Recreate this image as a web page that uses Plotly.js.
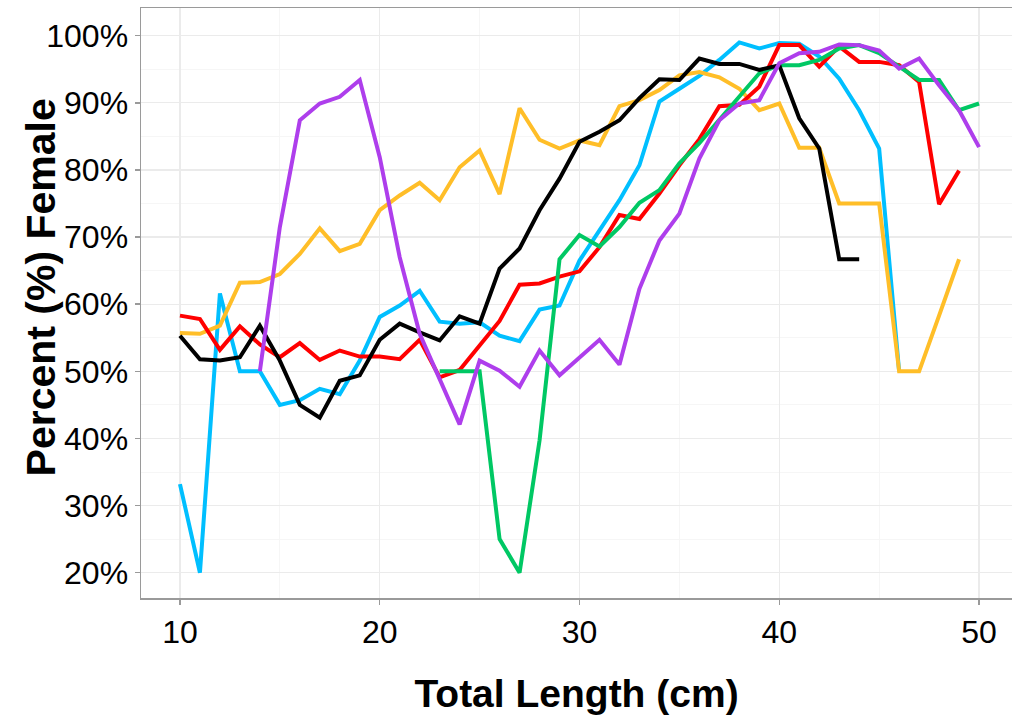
<!DOCTYPE html>
<html>
<head>
<meta charset="utf-8">
<script src="https://cdn.plot.ly/plotly-3.0.1.min.js"></script>
<style>
html,body{margin:0;padding:0;background:#fff;}
#chart{width:1012px;height:715px;}
</style>
</head>
<body>
<div id="chart"></div>
<script>
// Total length (cm) and percent female per group
var cyanX = [10,11,12,13,14,15,16,17,18,19,20,21,22,23,24,25,26,27,28,29,30,31,32,33,34,35,36,37,38,39,40,41,42,43,44,45,46];
var cyanY = [33.2,20,61.6,50,50,45,45.7,47.4,46.6,51.6,58.1,59.8,62,57.4,57.1,57.3,55.3,54.5,59.2,59.8,66.5,71,75.5,80.7,90.2,92.1,94,96.4,99,98.1,98.9,98.8,96.9,93.6,88.9,83.2,50];

var orangeX = [10,11,12,13,14,15,16,17,18,19,20,21,22,23,24,25,26,27,28,29,30,31,32,33,34,35,36,37,38,39,40,41,42,43,44,45,46,47,48,49];
var orangeY = [55.7,55.6,56.8,63.2,63.3,64.5,67.5,71.3,67.9,69,74,76.2,78.1,75.5,80.4,82.9,76.4,89.2,84.5,83.2,84.4,83.7,89.5,90.4,91.9,94.1,94.6,93.8,92.1,88.9,89.9,83.3,83.3,75,75,75,50,50,58.3,66.7];

var redX = [10,11,12,13,14,15,16,17,18,19,20,21,22,23,24,25,26,27,28,29,30,31,32,33,34,35,36,37,38,39,40,41,42,43,44,45,46,47,48,49];
var redY = [58.3,57.8,53.2,56.7,54,52.1,54.2,51.7,53.1,52.2,52.2,51.8,54.7,49.1,50.2,53.8,57.5,62.9,63.1,64.1,64.9,68.5,73.3,72.7,76.5,80.7,84.6,89.5,89.7,92.4,98.6,98.6,95.4,98.4,96.1,96.1,95.6,93.1,74.9,79.9];

var greenX = [23,24,25,26,27,28,29,30,31,32,33,34,35,36,37,38,39,40,41,42,43,44,45,46,47,48,49,50];
var greenY = [50,50,50,25,20,39.7,66.7,70.3,68.6,71.5,75.1,77,81,84,87.4,90.9,94.4,95.6,95.6,96.4,98.1,98.6,97.4,95.4,93.4,93.4,88.9,89.9];

var blackX = [10,11,12,13,14,15,16,17,18,19,20,21,22,23,24,25,26,27,28,29,30,31,32,33,34,35,36,37,38,39,40,41,42,43,44];
var blackY = [55.3,51.8,51.6,52.1,56.8,51.6,45,43.1,48.6,49.4,54.7,57.1,55.8,54.6,58.2,57.1,65.3,68.3,74,78.7,84.2,85.7,87.4,90.7,93.5,93.4,96.6,95.8,95.8,94.9,95.6,87.7,83.2,66.7,66.7];

var purpleX = [14,15,16,17,18,19,20,21,22,23,24,25,26,27,28,29,30,31,32,33,34,35,36,37,38,39,40,41,42,43,44,45,46,47,48,49,50];
var purpleY = [50,71.5,87.4,89.9,90.9,93.4,81.9,67,55.6,48.9,42.1,51.6,50.1,47.7,53.1,49.4,52,54.7,51,62.3,69.5,73.5,81.7,87.4,89.9,90.4,95.9,97.4,97.6,98.7,98.6,97.8,95.1,96.6,92.6,88.9,83.4];

var xTicks = [10,20,30,40,50];
var yTicks = [20,30,40,50,60,70,80,90,100];

function series(x, y, color) {
  return {x: x, y: y, type: 'scatter', mode: 'lines',
          line: {color: color, width: 4}, hoverinfo: 'x+y', showlegend: false};
}

var data = [
  series(cyanX, cyanY, '#00BFFF'),
  series(orangeX, orangeY, '#FFBE28'),
  series(redX, redY, '#FF0000'),
  series(greenX, greenY, '#00C864'),
  series(blackX, blackY, '#000000'),
  series(purpleX, purpleY, '#AE3EEC')
];

var layout = {
  width: 1012, height: 715,
  paper_bgcolor: '#ffffff', plot_bgcolor: '#ffffff',
  margin: {l: 141, r: 0, t: 8, b: 117},
  font: {family: '"Liberation Sans", Arial, sans-serif', color: '#000'},
  xaxis: {
    range: [8.05, 51.65], tickvals: xTicks, ticktext: xTicks.map(String),
    tickfont: {size: 32, color: '#000'},
    ticks: 'outside', ticklen: 5, tickwidth: 1.5, tickcolor: '#9a9a9a',
    showline: true, linecolor: '#9a9a9a', linewidth: 1.5, mirror: true,
    showgrid: true, gridcolor: '#EBEBEB', gridwidth: 1.2,
    minor: {dtick: 5, tick0: 5, showgrid: true, gridcolor: '#F6F6F6', gridwidth: 1},
    zeroline: false,
    title: {text: '<b>Total Length (cm)</b>', font: {size: 39, color: '#000'}, standoff: 32}
  },
  yaxis: {
    range: [16.23, 104.13], tickvals: yTicks, ticktext: yTicks.map(function(v){return v + '%';}),
    tickfont: {size: 32, color: '#000'},
    ticks: 'outside', ticklen: 5, tickwidth: 1.5, tickcolor: '#9a9a9a',
    showline: true, linecolor: '#9a9a9a', linewidth: 1.5, mirror: false,
    showgrid: true, gridcolor: '#EBEBEB', gridwidth: 1.2,
    minor: {dtick: 5, tick0: 5, showgrid: true, gridcolor: '#F6F6F6', gridwidth: 1},
    zeroline: false
  },
  annotations: [{
    text: '<b>Percent (%) Female</b>', xref: 'paper', yref: 'paper',
    x: -0.1137, y: 0.5263, xanchor: 'center', yanchor: 'middle',
    textangle: -90, showarrow: false, font: {size: 41, color: '#000'}
  }]
};

Plotly.newPlot('chart', data, layout, {displayModeBar: false, staticPlot: true});
</script>
</body>
</html>
